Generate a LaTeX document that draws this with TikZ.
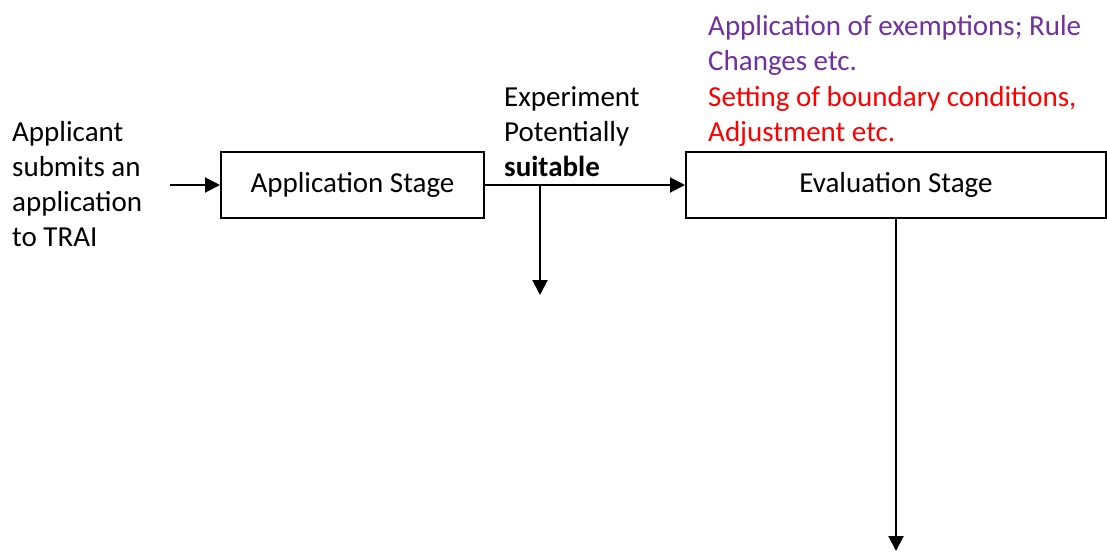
\documentclass[tikz,border=0pt]{standalone}
\usepackage{fontspec}
\setmainfont{Carlito}
\usetikzlibrary{arrows.meta}
\definecolor{purp}{HTML}{7030A0}
\begin{document}
\begin{tikzpicture}[x=1pt,y=-1pt,
  font=\fontsize{29}{35}\selectfont,
  stagebox/.style={draw, line width=2pt, inner sep=0pt, minimum height=66pt},
  arr/.style={line width=2pt, -{Triangle[length=15pt,width=15pt]}},
  lbl/.style={align=left, anchor=base west, inner sep=0pt}]
\useasboundingbox (0,0) rectangle (1107,552);
\node[stagebox, minimum width=263pt] (app) at (352.5,185) {Application Stage};
\node[stagebox, minimum width=420pt] (eval) at (896,185) {Evaluation Stage};
\node[lbl] (applicant) at (12,246) {Applicant\\submits an\\application\\to TRAI};
\node[lbl] (cond) at (504,176) {Experiment\\Potentially\\\textbf{suitable}};
\node[lbl, text=purp] (exempt) at (708,70) {Application of exemptions; Rule\\Changes etc.};
\node[lbl, text=red] (bound) at (708,141) {Setting of boundary conditions,\\Adjustment etc.};
\coordinate (start) at (170,185);
\coordinate (split) at (540,185);
\coordinate (end1) at (540,295);
\coordinate (end2) at (896,551);
\draw[arr] (start) -- (app.west);
\draw[arr] (app.east) -- (eval.west);
\draw[arr] (split) -- (end1);
\draw[arr] (eval.south) -- (end2);
\end{tikzpicture}
\end{document}
